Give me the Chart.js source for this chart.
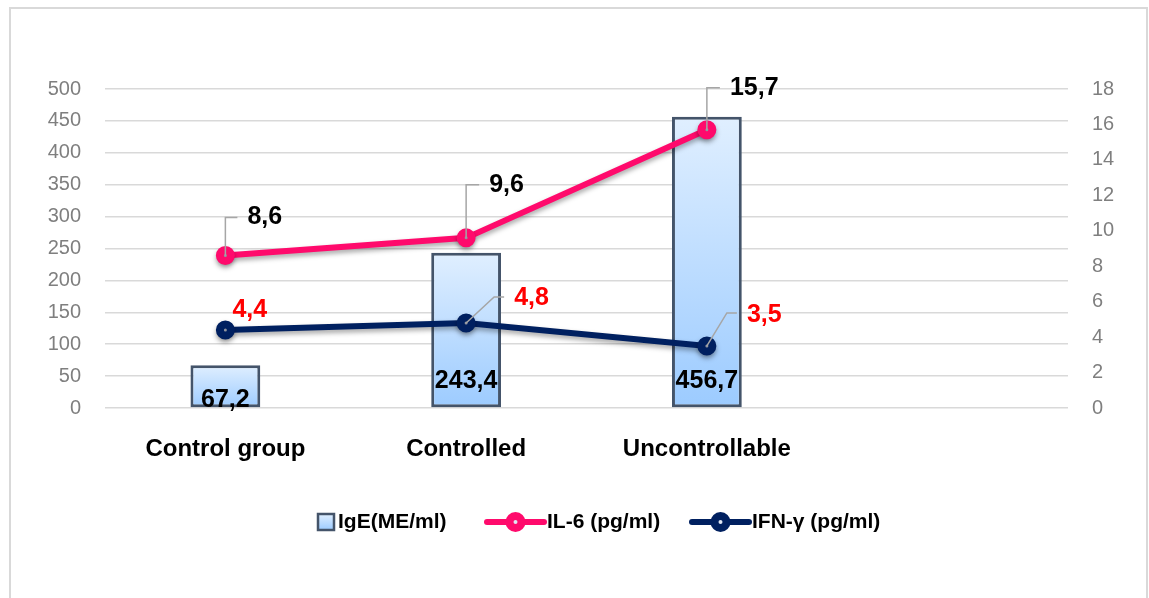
<!DOCTYPE html>
<html lang="en">
<head>
  <meta charset="UTF-8">
  <title>IgE, IL-6, IFN-γ</title>
  <script src="https://cdn.jsdelivr.net/npm/chart.js"></script>
  <style>
    body { margin: 0; background: #fff; overflow: hidden; }
    #frame {
      position: absolute; left: 9px; top: 7px; width: 1135px; height: 700px;
      border: 2px solid #d9d9d9; pointer-events: none;
    }
    canvas { position: absolute; left: 0; top: 0; }
  </style>
</head>
<body>
  <canvas id="c" width="1149" height="598"></canvas>
  <div id="frame"></div>

  <script>
    // data
    const groups = ['Control group', 'Controlled', 'Uncontrollable', ''];
    const ige = [67.2, 243.4, 456.7];
    const il6 = [8.6, 9.6, 15.7];
    const ifn = [4.4, 4.8, 3.5];
    const leftTicks = [0, 500, 50];
    const rightTicks = [0, 18, 2];

    const pink = '#ff0a6c';
    const navy = '#002060';
    const FONT = "'Liberation Sans', Arial, sans-serif";

    // label placement relative to the point: [dx, dy] + leader path
    const il6Place = [
      { dx: 22, dy: -38, lead: [[0, -38], [12, -38]] },
      { dx: 23, dy: -53, lead: [[0, -53], [13, -53]] },
      { dx: 23, dy: -42, lead: [[0, -42], [13, -42]] }
    ];
    const ifnPlace = [
      { dx: 7, dy: -20, lead: null },
      { dx: 48, dy: -25, lead: [[28, -26], [38, -26]] },
      { dx: 40, dy: -31, lead: [[20, -33], [30, -33]] }
    ];

    const fmt = v => v.toFixed(1).replace('.', ',');

    function barFill(c) {
      const ch = c.chart;
      if (!ch.chartArea || c.raw == null) return '#c5e0ff';
      const y = ch.scales.y;
      const g = ch.ctx.createLinearGradient(0, y.getPixelForValue(c.raw), 0, y.getPixelForValue(0));
      g.addColorStop(0, '#e0efff');
      g.addColorStop(1, '#9ccbff');
      return g;
    }

    const shadowPlugin = {
      id: 'shadow',
      beforeDatasetDraw(chart, args) {
        const ctx = chart.ctx;
        ctx.save();
        if (args.meta.type === 'line') {
          ctx.shadowColor = 'rgba(0,0,0,0.35)';
          ctx.shadowBlur = 5;
          ctx.shadowOffsetY = 3;
        }
      },
      afterDatasetDraw(chart) { chart.ctx.restore(); }
    };

    const labelPlugin = {
      id: 'labels',
      afterDatasetsDraw(chart) {
        const ctx = chart.ctx;
        ctx.save();
        ctx.font = 'bold 25px ' + FONT;
        ctx.textBaseline = 'middle';

        // bar values
        const bm = chart.getDatasetMeta(0);
        const base = chart.scales.y.getPixelForValue(0);
        ctx.fillStyle = '#000';
        ctx.textAlign = 'center';
        bm.data.forEach((el, i) => {
          if (ige[i] == null) return;
          const h = base - el.y;
          ctx.fillText(fmt(ige[i]), el.x, h > 60 ? base - 27 : base - 8);
        });

        // line values
        const lineLabels = (idx, vals, place, color) => {
          const m = chart.getDatasetMeta(idx);
          m.data.forEach((el, i) => {
            if (vals[i] == null) return;
            const p = place[i];
            if (p.lead) {
              ctx.strokeStyle = '#a6a6a6';
              ctx.lineWidth = 1.5;
              ctx.beginPath();
              ctx.moveTo(el.x, el.y);
              p.lead.forEach(q => ctx.lineTo(el.x + q[0], el.y + q[1]));
              ctx.stroke();
            }
            ctx.fillStyle = color;
            ctx.textAlign = 'left';
            ctx.fillText(fmt(vals[i]), el.x + p.dx, el.y + p.dy);
          });
        };
        lineLabels(1, il6, il6Place, '#000');
        lineLabels(2, ifn, ifnPlace, '#ff0000');
        ctx.restore();
      }
    };

    const legendPlugin = {
      id: 'legendBox',
      afterDraw(chart) {
        const ctx = chart.ctx;
        const y = 522;
        ctx.save();
        ctx.font = 'bold 21px ' + FONT;
        ctx.textBaseline = 'middle';
        ctx.textAlign = 'left';
        ctx.fillStyle = '#000';

        // bar swatch
        const g = ctx.createLinearGradient(0, y - 8, 0, y + 8);
        g.addColorStop(0, '#e0efff');
        g.addColorStop(1, '#9ccbff');
        ctx.fillStyle = g;
        ctx.fillRect(318, y - 8, 16, 16);
        ctx.strokeStyle = '#44546a';
        ctx.lineWidth = 2.5;
        ctx.strokeRect(318, y - 8, 16, 16);
        ctx.fillStyle = '#000';
        ctx.fillText(chart.data.datasets[0].label, 338, y);

        const lineItem = (x0, x1, color, text) => {
          ctx.strokeStyle = color;
          ctx.lineWidth = 6;
          ctx.lineCap = 'round';
          ctx.beginPath();
          ctx.moveTo(x0, y);
          ctx.lineTo(x1, y);
          ctx.stroke();
          ctx.fillStyle = color;
          ctx.beginPath();
          ctx.arc((x0 + x1) / 2, y, 10, 0, Math.PI * 2);
          ctx.fill();
          ctx.fillStyle = '#dfe6f2';
          ctx.beginPath();
          ctx.arc((x0 + x1) / 2, y, 2, 0, Math.PI * 2);
          ctx.fill();
          ctx.fillStyle = '#000';
          ctx.fillText(text, x1 + 3, y);
        };
        lineItem(487, 544, pink, chart.data.datasets[1].label);
        lineItem(692, 749, navy, chart.data.datasets[2].label);
        ctx.restore();
      }
    };

    new Chart(document.getElementById('c'), {
      data: {
        labels: groups,
        datasets: [
          {
            type: 'bar',
            label: 'IgE(ME/ml)',
            data: ige,
            yAxisID: 'y',
            backgroundColor: barFill,
            borderColor: '#44546a',
            borderWidth: 3,
            borderSkipped: false,
            barPercentage: 0.29,
            categoryPercentage: 1,
            order: 3
          },
          {
            type: 'line',
            label: 'IL-6 (pg/ml)',
            data: il6,
            yAxisID: 'y1',
            borderColor: pink,
            borderWidth: 6,
            pointRadius: 5.5,
            pointBorderWidth: 8,
            pointBackgroundColor: '#d6dcea',
            pointBorderColor: pink,
            order: 1
          },
          {
            type: 'line',
            label: 'IFN-γ (pg/ml)',
            data: ifn,
            yAxisID: 'y1',
            borderColor: navy,
            borderWidth: 6,
            pointRadius: 5.5,
            pointBorderWidth: 8,
            pointBackgroundColor: '#d6dcea',
            pointBorderColor: navy,
            order: 2
          }
        ]
      },
      options: {
        responsive: false,
        animation: false,
        devicePixelRatio: 1,
        layout: { padding: { top: 89, left: 0, right: 0, bottom: 0 } },
        plugins: { legend: { display: false }, tooltip: { enabled: false } },
        scales: {
          x: {
            grid: { display: false },
            border: { display: false },
            ticks: { color: '#000', font: { family: FONT, size: 24, weight: 'bold' }, padding: 19, maxRotation: 0 },
            afterFit(s) { s.height = 190; }
          },
          y: {
            position: 'left',
            min: leftTicks[0], max: leftTicks[1],
            ticks: { stepSize: leftTicks[2], color: '#7f7f7f', font: { family: FONT, size: 20 }, padding: 24 },
            grid: { color: '#d9d9d9', lineWidth: 1.5, drawTicks: false },
            border: { display: false },
            afterFit(s) { s.width = 105; }
          },
          y1: {
            position: 'right',
            min: rightTicks[0], max: rightTicks[1],
            ticks: { stepSize: rightTicks[2], color: '#7f7f7f', font: { family: FONT, size: 20 }, padding: 24 },
            grid: { display: false, drawTicks: false },
            border: { display: false },
            afterFit(s) { s.width = 81; }
          }
        }
      },
      plugins: [shadowPlugin, labelPlugin, legendPlugin]
    });
  </script>
</body>
</html>
